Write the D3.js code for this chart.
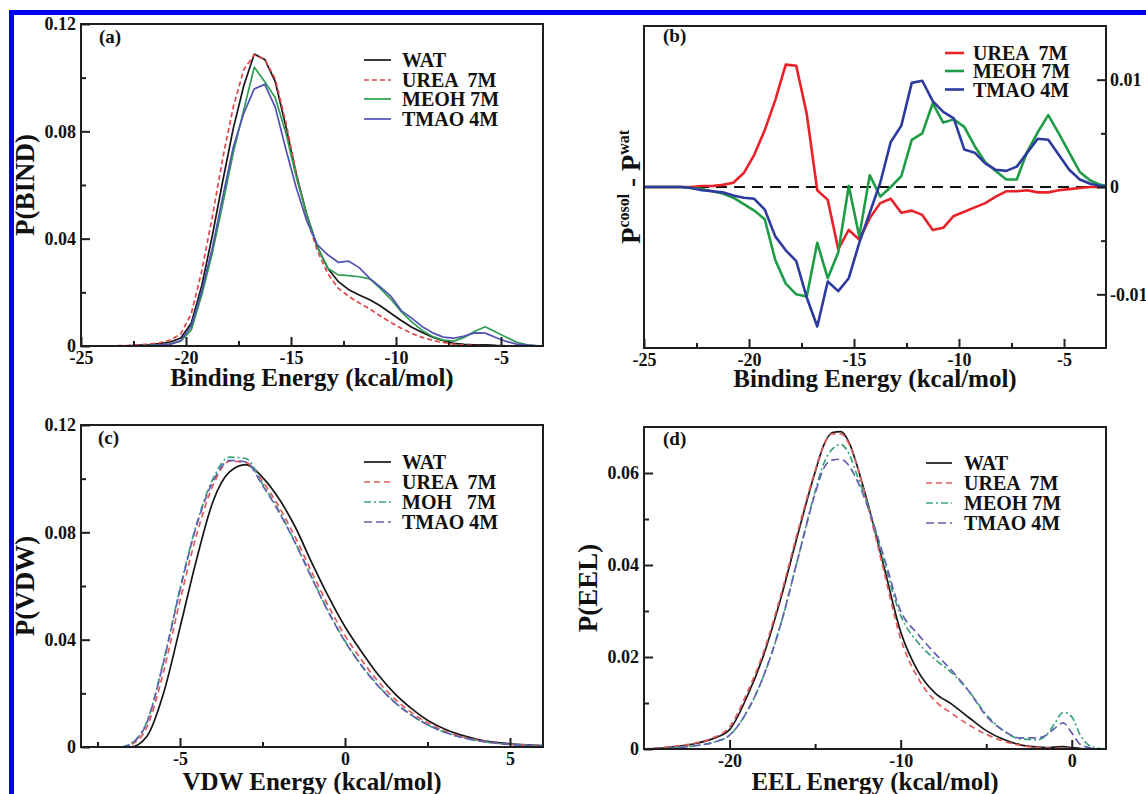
<!DOCTYPE html>
<html>
<head>
<meta charset="utf-8">
<script src="https://cdn.jsdelivr.net/npm/d3@7"></script>
<style>
  html, body { margin: 0; padding: 0; background: #fff; }
  svg { display: block; }
  text { font-family: "Liberation Serif", "Times New Roman", serif; font-weight: bold; fill: #111; }
</style>
</head>
<body>
<svg id="fig" width="1146" height="794"></svg>
<script>
// ---------- (a) binding-energy distributions ----------
const bindEnergy = [-24.75, -24.25, -23.75, -23.25, -22.75, -22.25, -21.75, -21.25, -20.75, -20.25,
  -19.75, -19.25, -18.75, -18.25, -17.75, -17.25, -16.75, -16.25, -15.75, -15.25,
  -14.75, -14.25, -13.75, -13.25, -12.75, -12.25, -11.75, -11.25, -10.75, -10.25,
  -9.75, -9.25, -8.75, -8.25, -7.75, -7.25, -6.75, -6.25, -5.75, -5.25,
  -4.75, -4.25, -3.75, -3.25];
const bindWAT = [0, 0, 0, 0, 0.0001, 0.0003, 0.0005, 0.0009, 0.0015, 0.0030,
  0.0085, 0.0225, 0.0410, 0.0615, 0.0810, 0.0970, 0.1088, 0.1068, 0.0985, 0.0820,
  0.0640, 0.0490, 0.0370, 0.0290, 0.0240, 0.0210, 0.0190, 0.0172, 0.0150, 0.0122,
  0.0095, 0.0070, 0.0050, 0.0033, 0.0020, 0.0010, 0.0006, 0.0004, 0.0004, 0.0002,
  0.0001, 0, 0, 0];
const bindUREA = [0, 0, 0, 0.0001, 0.0002, 0.0004, 0.0007, 0.0012, 0.0022, 0.0045,
  0.0120, 0.0280, 0.0480, 0.0700, 0.0890, 0.1030, 0.1085, 0.1068, 0.0995, 0.0835,
  0.0645, 0.0480, 0.0355, 0.0270, 0.0215, 0.0185, 0.0160, 0.0138, 0.0112, 0.0088,
  0.0066, 0.0047, 0.0032, 0.0021, 0.0013, 0.0007, 0.0004, 0.0002, 0.0001, 0.0001,
  0, 0, 0, 0];
const bindMEOH = [0, 0, 0, 0, 0.0000, 0.0001, 0.0002, 0.0004, 0.0007, 0.0018,
  0.0060, 0.0190, 0.0345, 0.0530, 0.0720, 0.0880, 0.1039, 0.0985, 0.0925, 0.0795,
  0.0630, 0.0490, 0.0370, 0.0290, 0.0265, 0.0262, 0.0258, 0.0250, 0.0215, 0.0175,
  0.0128, 0.0090, 0.0058, 0.0035, 0.0022, 0.0018, 0.0032, 0.0055, 0.0072, 0.0052,
  0.0033, 0.0014, 0.0004, 0.0001];
const bindTMAO = [0, 0, 0, 0, 0.0000, 0.0001, 0.0002, 0.0004, 0.0007, 0.0020,
  0.0074, 0.0204, 0.0364, 0.0556, 0.0741, 0.0867, 0.0958, 0.0975, 0.0890, 0.0735,
  0.0590, 0.0466, 0.0378, 0.0340, 0.0312, 0.0316, 0.0292, 0.0252, 0.0220, 0.0186,
  0.0132, 0.0104, 0.0072, 0.0049, 0.0033, 0.0029, 0.0037, 0.0049, 0.0048, 0.0032,
  0.0017, 0.0007, 0.0003, 0.0001];

// ---------- (b) cosolvent minus water ----------
const diffEnergy = [-25, -24.75, -24.25, -23.75, -23.25, -22.75, -22.25, -21.75, -21.25, -20.75,
  -20.25, -19.75, -19.25, -18.75, -18.25, -17.75, -17.25, -16.75, -16.25, -15.75,
  -15.25, -14.75, -14.25, -13.75, -13.25, -12.75, -12.25, -11.75, -11.25, -10.75,
  -10.25, -9.75, -9.25, -8.75, -8.25, -7.75, -7.25, -6.75, -6.25, -5.75,
  -5.25, -4.75, -4.25, -3.75, -3.25, -3];
const diffUREA = [0, 0, 0, 0, 0, 0, 0.0001, 0.0001, 0.0002, 0.0004,
  0.0013, 0.0030, 0.0053, 0.0081, 0.0114, 0.0113, 0.0068, -0.0003, -0.0012, -0.0058,
  -0.0040, -0.0049, -0.0029, -0.0015, -0.0011, -0.0024, -0.0022, -0.0026, -0.0040, -0.0038,
  -0.0027, -0.0023, -0.0019, -0.0015, -0.0009, -0.0004, -0.0004, -0.0003, -0.0005, -0.0005,
  -0.0003, -0.0002, -0.0001, 0, 0, 0];
const diffMEOH = [0, 0, 0, 0, 0, -0.0001, -0.0002, -0.0004, -0.0006, -0.0010,
  -0.0016, -0.0022, -0.0030, -0.0068, -0.0090, -0.0100, -0.0102, -0.0052, -0.0085, -0.0061,
  0.0001, -0.0046, 0.0011, -0.0009, 0.0000, 0.0010, 0.0044, 0.0050, 0.0078, 0.0060,
  0.0063, 0.0056, 0.0038, 0.0023, 0.0015, 0.0007, 0.0007, 0.0033, 0.0051, 0.0067,
  0.0050, 0.0032, 0.0014, 0.0006, 0.0002, 0.0001];
const diffTMAO = [0, 0, 0, 0, 0, -0.0001, -0.0003, -0.0004, -0.0005, -0.0008,
  -0.0010, -0.0011, -0.0021, -0.0046, -0.0059, -0.0069, -0.0103, -0.0130, -0.0088, -0.0097,
  -0.0085, -0.0052, -0.0024, 0.0004, 0.0042, 0.0057, 0.0097, 0.0099, 0.0080, 0.0070,
  0.0064, 0.0035, 0.0032, 0.0022, 0.0016, 0.0015, 0.0019, 0.0032, 0.0045, 0.0044,
  0.0030, 0.0016, 0.0007, 0.0003, 0.0001, 0.0001];

// ---------- (c) van der Waals energy ----------
const vdwEnergy = [-6.75, -6.5, -6, -5.5, -5, -4.5, -4, -3.5, -3, -2.5, -2, -1.5, -1, -0.5,
  0, 0.5, 1, 1.5, 2, 2.5, 3, 3.5, 4, 4.5, 5, 5.5, 6];
const vdwWAT = [0, 0, 0.0040, 0.0200, 0.0445, 0.0698, 0.0915, 0.1025, 0.1052, 0.1005, 0.0925, 0.0818, 0.0685, 0.0560,
  0.0448, 0.0355, 0.0270, 0.0200, 0.0145, 0.0100, 0.0068, 0.0045, 0.0029, 0.0018, 0.0012, 0.0008, 0.0005];
const vdwUREA = [0, 0.0008, 0.0075, 0.0280, 0.0545, 0.0790, 0.0975, 0.1065, 0.1060, 0.0990, 0.0895, 0.0780, 0.0650, 0.0525,
  0.0415, 0.0325, 0.0245, 0.0180, 0.0130, 0.0090, 0.0060, 0.0040, 0.0026, 0.0016, 0.0010, 0.0007, 0.0004];
const vdwMOH = [0, 0.0012, 0.0095, 0.0320, 0.0590, 0.0830, 0.1000, 0.1080, 0.1075, 0.0980, 0.0880, 0.0760, 0.0630, 0.0505,
  0.0395, 0.0305, 0.0230, 0.0168, 0.0120, 0.0083, 0.0056, 0.0037, 0.0024, 0.0015, 0.0010, 0.0006, 0.0004];
const vdwTMAO = [0, 0.0010, 0.0092, 0.0315, 0.0585, 0.0825, 0.0990, 0.1068, 0.1062, 0.0975, 0.0875, 0.0758, 0.0628, 0.0502,
  0.0393, 0.0303, 0.0228, 0.0167, 0.0120, 0.0083, 0.0056, 0.0037, 0.0024, 0.0015, 0.0010, 0.0006, 0.0004];

// ---------- (d) electrostatic energy ----------
const eelEnergy = [-25, -24, -23, -22, -21, -20, -19, -18, -17, -16, -15, -14.5, -14, -13.5, -13, -12.5, -12,
  -11, -10, -9, -8, -7, -6, -5, -4, -3, -2, -1.5, -1, -0.5, 0, 0.5, 1, 1.5, 2];
const eelWAT = [0, 0.0002, 0.0006, 0.0012, 0.0022, 0.0042, 0.0112, 0.0205, 0.0328, 0.0468, 0.0602,
  0.0660, 0.0688, 0.0690, 0.0665, 0.0610, 0.0545,
  0.0400, 0.0255, 0.0170, 0.0122, 0.0097, 0.0068, 0.0040, 0.0021, 0.0009, 0.0004,
  0.0003, 0.0004, 0.0005, 0.0003, 0.0001, 0, 0, 0];
const eelUREA = [0, 0.0003, 0.0007, 0.0013, 0.0024, 0.0048, 0.0120, 0.0212, 0.0335, 0.0475, 0.0605,
  0.0660, 0.0685, 0.0685, 0.0662, 0.0610, 0.0540,
  0.0390, 0.0240, 0.0155, 0.0105, 0.0077, 0.0052, 0.0032, 0.0017, 0.0008, 0.0003,
  0.0002, 0.0002, 0.0002, 0.0001, 0, 0, 0, 0];
const eelMEOH = [0, 0.0001, 0.0003, 0.0007, 0.0014, 0.0030, 0.0080, 0.0160, 0.0272, 0.0415, 0.0560,
  0.0620, 0.0652, 0.0662, 0.0640, 0.0590, 0.0540,
  0.0410, 0.0290, 0.0232, 0.0195, 0.0165, 0.0125, 0.0075, 0.0040, 0.0022, 0.0020,
  0.0030, 0.0055, 0.0080, 0.0070, 0.0030, 0.0008, 0.0002, 0];
const eelTMAO = [0, 0.0001, 0.0003, 0.0007, 0.0014, 0.0030, 0.0080, 0.0160, 0.0272, 0.0415, 0.0555,
  0.0610, 0.0628, 0.0630, 0.0615, 0.0580, 0.0535,
  0.0420, 0.0300, 0.0250, 0.0208, 0.0170, 0.0125, 0.0072, 0.0040, 0.0024, 0.0024,
  0.0030, 0.0045, 0.0057, 0.0035, 0.0010, 0.0003, 0, 0];

// ---------- ticks ----------
const bindTicks = [-25, -20, -15, -10, -5];
const bindMinor = [-22.5, -17.5, -12.5, -7.5];
const probTicks = [0, 0.04, 0.08, 0.12];
const probMinor = [0.02, 0.06, 0.10];
const diffTicks = [-0.01, 0, 0.01];
const diffMinor = [-0.005, 0.005];
const vdwTicks = [-5, 0, 5];
const vdwMinor = [-7.5, -2.5, 2.5];
const eelTicks = [-20, -10, 0];
const eelMinor = [-15, -5];
const eelProbTicks = [0, 0.02, 0.04, 0.06];
const eelProbMinor = [0.01, 0.03, 0.05];

// ---------- drawing ----------
const svg = d3.select("#fig");
svg.append("rect").attr("width", 1146).attr("height", 794).attr("fill", "#fff");
svg.append("rect").attr("x", 9).attr("y", 10).attr("width", 1137).attr("height", 5).attr("fill", "#0000f4");
svg.append("rect").attr("x", 9).attr("y", 10).attr("width", 5).attr("height", 784).attr("fill", "#0000f4");

const FONT = '"Liberation Serif", "Times New Roman", serif';
const AXIS = "#1e1e1e";
const fmtX = d => (d < 0 ? "-" : "") + Math.abs(d);
const fmtY = d => d === 0 ? "0" : (d < 0 ? "-" : "") + Math.abs(d).toFixed(2);

function styleAxis(g, labelSize) {
  g.attr("font-family", FONT).attr("font-size", labelSize);
  g.select(".domain").remove();
  g.selectAll(".tick line").attr("stroke", AXIS).attr("stroke-width", 2);
  g.selectAll(".tick text").attr("fill", "#111").attr("font-weight", "bold");
}

function drawPanel(p) {
  const b = p.box;
  const x = d3.scaleLinear().domain(p.xDomain).range([b.l, b.r]);
  const y = d3.scaleLinear().domain(p.yDomain).range([b.b, b.t]);
  const g = svg.append("g");

  // zero reference
  if (p.zeroLine) {
    g.append("line").attr("x1", b.l).attr("x2", b.r).attr("y1", y(0)).attr("y2", y(0))
      .attr("stroke", "#111").attr("stroke-width", 2.2).attr("stroke-dasharray", "11,7");
  }

  // curves
  const line = d3.line().x(d => x(d[0])).y(d => y(d[1])).curve(p.curve || d3.curveLinear);
  p.series.forEach(s => {
    g.append("path")
      .datum(d3.zip(p.xs, s.values))
      .attr("fill", "none")
      .attr("stroke", s.color)
      .attr("stroke-width", s.width)
      .attr("stroke-dasharray", s.dash || null)
      .attr("stroke-linejoin", "round")
      .attr("d", line);
  });

  // bottom axis: major + minor ticks, pointing inward
  const gx = g.append("g").attr("transform", `translate(0,${b.b})`);
  gx.call(d3.axisBottom(x).tickValues(p.xTicks).tickSize(-9).tickSizeOuter(0).tickPadding(5).tickFormat(fmtX));
  styleAxis(gx, 18);
  const gxm = g.append("g").attr("transform", `translate(0,${b.b})`);
  gxm.call(d3.axisBottom(x).tickValues(p.xMinor).tickSize(-5).tickSizeOuter(0).tickFormat(() => ""));
  styleAxis(gxm, 18);

  // vertical axis
  const right = p.ySide === "right";
  const axisY = right ? d3.axisRight(y) : d3.axisLeft(y);
  const gy = g.append("g").attr("transform", `translate(${right ? b.r : b.l},0)`);
  gy.call(axisY.tickValues(p.yTicks).tickSize(-9).tickSizeOuter(0).tickPadding(right ? 4 : 5).tickFormat(fmtY));
  styleAxis(gy, 18);
  const axisYm = right ? d3.axisRight(y) : d3.axisLeft(y);
  const gym = g.append("g").attr("transform", `translate(${right ? b.r : b.l},0)`);
  gym.call(axisYm.tickValues(p.yMinor).tickSize(-5).tickSizeOuter(0).tickFormat(() => ""));
  styleAxis(gym, 18);

  // frame
  g.append("rect").attr("x", b.l).attr("y", b.t).attr("width", b.r - b.l).attr("height", b.b - b.t)
    .attr("fill", "none").attr("stroke", AXIS).attr("stroke-width", 2);

  // panel tag
  g.append("text").attr("x", p.tag.x).attr("y", p.tag.y).attr("font-size", 19).text(p.tag.text);

  // axis titles
  g.append("text").attr("x", (b.l + b.r) / 2).attr("y", p.xTitleY)
    .attr("text-anchor", "middle").attr("font-size", 25).text(p.xTitle);
  const yt = g.append("text")
    .attr("transform", `translate(${p.yTitleX},${(b.t + b.b) / 2}) rotate(-90)`)
    .attr("text-anchor", "middle").attr("font-size", p.yTitleSize || 26);
  if (typeof p.yTitle === "string") yt.text(p.yTitle);
  else p.yTitle(yt);

  // legend
  const L = p.legend;
  p.series.forEach((s, i) => {
    const cy = L.ys[i];
    g.append("line").attr("x1", L.x1).attr("x2", L.x2).attr("y1", cy).attr("y2", cy)
      .attr("stroke", s.color).attr("stroke-width", s.width).attr("stroke-dasharray", s.dash || null);
    g.append("text").attr("x", L.tx).attr("y", cy).attr("dy", "0.35em")
      .attr("font-size", 20).style("white-space", "pre").text(s.label);
  });
}

// (a)
drawPanel({
  box: { l: 81, r: 543, t: 24, b: 346 },
  xDomain: [-25, -3], yDomain: [0, 0.12],
  xTicks: bindTicks, xMinor: bindMinor, yTicks: probTicks, yMinor: probMinor,
  xs: bindEnergy,
  series: [
    { label: "WAT", values: bindWAT, color: "#161616", width: 1.7 },
    { label: "UREA  7M", values: bindUREA, color: "#e2474b", width: 1.7, dash: "5,3" },
    { label: "MEOH 7M", values: bindMEOH, color: "#2b9e52", width: 1.7 },
    { label: "TMAO 4M", values: bindTMAO, color: "#5252b4", width: 1.7 }
  ],
  tag: { x: 99, y: 43, text: "(a)" },
  xTitle: "Binding Energy (kcal/mol)", xTitleY: 386,
  yTitle: "P(BIND)", yTitleX: 34, yTitleSize: 27,
  legend: { x1: 364, x2: 391, tx: 402, ys: [60, 80, 99, 119] }
});

// (b)
drawPanel({
  box: { l: 644, r: 1106, t: 26, b: 348 },
  xDomain: [-25, -3], yDomain: [-0.015, 0.015], ySide: "right", zeroLine: true,
  xTicks: bindTicks, xMinor: bindMinor, yTicks: diffTicks, yMinor: diffMinor,
  xs: diffEnergy,
  series: [
    { label: "UREA  7M", values: diffUREA, color: "#ea2128", width: 2.6 },
    { label: "MEOH 7M", values: diffMEOH, color: "#1e9c46", width: 2.6 },
    { label: "TMAO 4M", values: diffTMAO, color: "#2e3b9e", width: 2.6 }
  ],
  tag: { x: 663, y: 42, text: "(b)" },
  xTitle: "Binding Energy (kcal/mol)", xTitleY: 387,
  yTitle: t => {
    t.append("tspan").text("P");
    t.append("tspan").attr("font-size", 16).attr("dy", -11).text("cosol");
    t.append("tspan").attr("dy", 11).text(" - P");
    t.append("tspan").attr("font-size", 16).attr("dy", -11).text("wat");
  },
  yTitleX: 640, yTitleSize: 27,
  legend: { x1: 945, x2: 964, tx: 973, ys: [53, 71, 89.5] }
});

// (c)
drawPanel({
  box: { l: 81, r: 543, t: 425, b: 747 },
  xDomain: [-8, 6], yDomain: [0, 0.12], curve: d3.curveMonotoneX,
  xTicks: vdwTicks, xMinor: vdwMinor, yTicks: probTicks, yMinor: probMinor,
  xs: vdwEnergy,
  series: [
    { label: "WAT", values: vdwWAT, color: "#161616", width: 1.7 },
    { label: "UREA  7M", values: vdwUREA, color: "#e35a5a", width: 1.7, dash: "6,4" },
    { label: "MOH   7M", values: vdwMOH, color: "#3aa27a", width: 1.7, dash: "7,3,2,3" },
    { label: "TMAO 4M", values: vdwTMAO, color: "#6262b2", width: 1.7, dash: "8,4" }
  ],
  tag: { x: 98, y: 444, text: "(c)" },
  xTitle: "VDW Energy (kcal/mol)", xTitleY: 790,
  yTitle: "P(VDW)", yTitleX: 34, yTitleSize: 27,
  legend: { x1: 364, x2: 391, tx: 402, ys: [462, 482, 502, 522] }
});

// (d)
drawPanel({
  box: { l: 644, r: 1106, t: 427, b: 749 },
  xDomain: [-25, 2], yDomain: [0, 0.07], curve: d3.curveMonotoneX,
  xTicks: eelTicks, xMinor: eelMinor, yTicks: eelProbTicks, yMinor: eelProbMinor,
  xs: eelEnergy,
  series: [
    { label: "WAT", values: eelWAT, color: "#161616", width: 1.7 },
    { label: "UREA  7M", values: eelUREA, color: "#e35a5a", width: 1.7, dash: "6,4" },
    { label: "MEOH 7M", values: eelMEOH, color: "#3aa27a", width: 1.7, dash: "7,3,2,3" },
    { label: "TMAO 4M", values: eelTMAO, color: "#6262b2", width: 1.7, dash: "8,4" }
  ],
  tag: { x: 663, y: 445, text: "(d)" },
  xTitle: "EEL Energy (kcal/mol)", xTitleY: 790,
  yTitle: "P(EEL)", yTitleX: 597, yTitleSize: 27,
  legend: { x1: 926, x2: 952, tx: 964, ys: [463, 483, 503, 523] }
});
</script>
</body>
</html>
